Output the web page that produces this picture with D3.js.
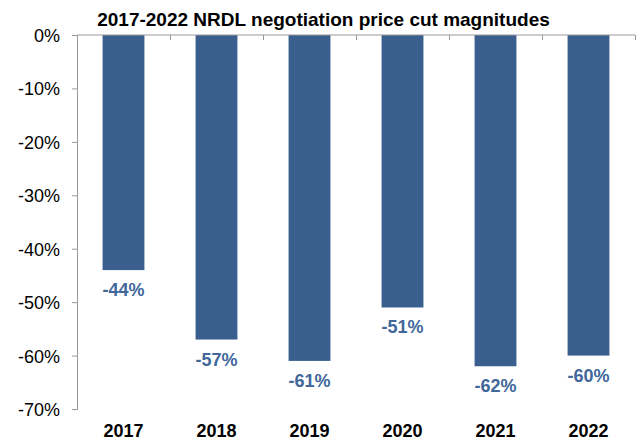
<!DOCTYPE html>
<html><head><meta charset="utf-8">
<script src="https://cdn.jsdelivr.net/npm/d3@7"></script>
<style>body{margin:0;background:#fff}svg{display:block}</style>
</head><body>
<script>
const title = "2017-2022 NRDL negotiation price cut magnitudes";
const years = ["2017","2018","2019","2020","2021","2022"];
const cuts = [-44, -57, -61, -51, -62, -60];
const yTicks = [0, -10, -20, -30, -40, -50, -60, -70];

const W = 637, H = 441;
const m = {left: 77, right: 2, top: 35, bottom: 32};
const svg = d3.select("body").append("svg").attr("width", W).attr("height", H);
const font = "'Liberation Sans', Arial, sans-serif";

const x = d3.scaleBand().domain(years).range([m.left, 635]).paddingInner(0.55).paddingOuter(0.275);
const y = d3.scaleLinear().domain([-70, 0]).range([409, 35]);

svg.append("text").attr("x", 323.5).attr("y", 26).attr("text-anchor", "middle")
  .attr("font-family", font).attr("font-weight", "bold").attr("font-size", 19)
  .attr("fill", "#000").text(title);

// bars
svg.selectAll("rect.bar").data(cuts).join("rect").attr("class","bar")
  .attr("x", (d,i) => x(years[i])).attr("width", x.bandwidth())
  .attr("y", y(0)).attr("height", d => y(d) - y(0))
  .attr("fill", "#3A5F8F");

// value labels
svg.selectAll("text.val").data(cuts).join("text").attr("class","val")
  .attr("x", (d,i) => x(years[i]) + x.bandwidth()/2)
  .attr("y", d => y(d) + 26).attr("text-anchor","middle")
  .attr("font-family", font).attr("font-weight","bold").attr("font-size", 18)
  .attr("fill", "#41679B").text(d => d + "%");

// y axis
const yAxis = d3.axisLeft(y).tickValues(yTicks).tickFormat(d => d + "%").tickSize(5).tickPadding(12);
const gy = svg.append("g").attr("transform", `translate(${m.left},0)`).call(yAxis);
gy.select(".domain").attr("stroke", "#999");
gy.selectAll(".tick line").attr("stroke", "#999");
gy.selectAll(".tick text").attr("font-family", font).attr("font-size", 18).attr("fill", "#000").attr("dy", "0.36em");

// x axis line at zero, with boundary ticks pointing down
const xb = d3.scaleLinear().domain([0, years.length]).range([m.left, 635]);
const gx = svg.append("g").attr("transform", `translate(0,${y(0)})`)
  .call(d3.axisBottom(xb).tickValues(d3.range(1, years.length+1)).tickSize(5).tickFormat(""));
gx.select(".domain").attr("stroke", "#999").attr("d", `M${m.left},0H635`);
gx.selectAll(".tick line").attr("stroke", "#999");

// category labels
svg.selectAll("text.cat").data(years).join("text").attr("class","cat")
  .attr("x", d => x(d) + x.bandwidth()/2).attr("y", 437).attr("text-anchor","middle")
  .attr("font-family", font).attr("font-weight","bold").attr("font-size", 18)
  .attr("fill","#000").text(d => d);
</script>
</body></html>
